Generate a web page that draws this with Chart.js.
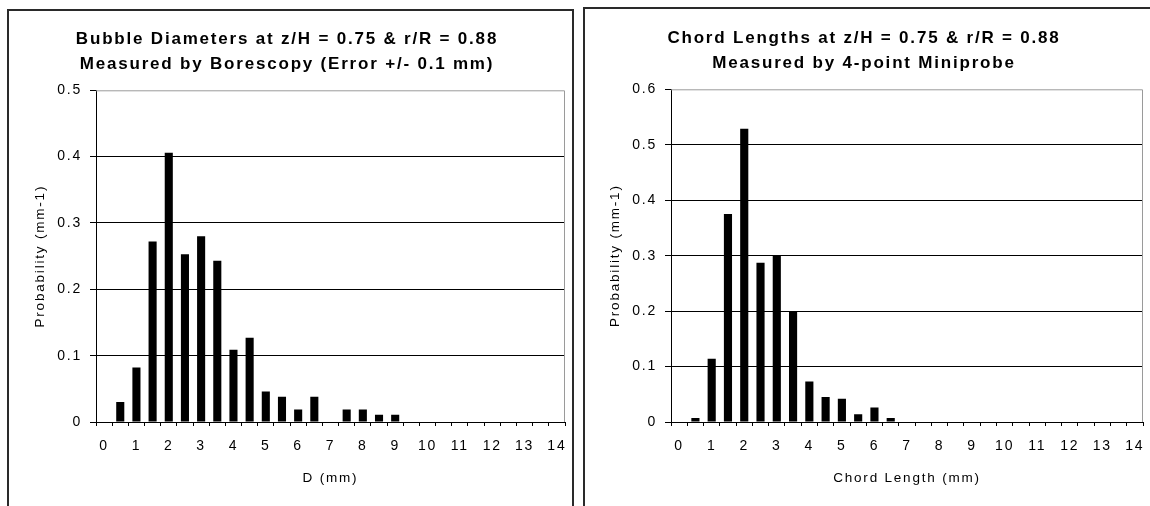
<!DOCTYPE html>
<html>
<head>
<meta charset="utf-8">
<script src="https://cdn.jsdelivr.net/npm/chart.js@4.4.1/dist/chart.umd.min.js"></script>
<style>
  html, body { margin: 0; padding: 0; background: #fff; overflow: hidden; }
  body { width: 1150px; height: 506px; position: relative; }
  .panel { position: absolute; box-sizing: border-box; border: 2px solid #2a2a2a; background: #fff; }
  #leftPanel { left: 7px; top: 9px; width: 567px; height: 520px; }
  #rightPanel { left: 583px; top: 7px; width: 569px; height: 520px; }
  canvas { display: block; }
</style>
</head>
<body>
<div class="panel" id="leftPanel"><canvas id="diamChart" width="563" height="497"></canvas></div>
<div class="panel" id="rightPanel"><canvas id="chordChart" width="565" height="497"></canvas></div>
<script>
// size classes (mm), shared by both histograms
const sizeBins = [0, 0.5, 1, 1.5, 2, 2.5, 3, 3.5, 4, 4.5, 5, 5.5, 6, 6.5, 7,
  7.5, 8, 8.5, 9, 9.5, 10, 10.5, 11, 11.5, 12, 12.5, 13, 13.5, 14];

// borescopy bubble diameters, probability (mm-1)
const diameterProb = [0, 0.030, 0.082, 0.272, 0.406, 0.253, 0.280, 0.243, 0.109, 0.127,
  0.046, 0.038, 0.019, 0.038, 0, 0.019, 0.019, 0.011, 0.011, 0,
  0, 0, 0, 0, 0, 0, 0, 0, 0];

// miniprobe chord lengths, probability (mm-1)
const chordProb = [0, 0.007, 0.114, 0.375, 0.529, 0.287, 0.301, 0.200, 0.073, 0.045,
  0.042, 0.014, 0.026, 0.007, 0, 0, 0, 0, 0, 0,
  0, 0, 0, 0, 0, 0, 0, 0, 0];

const diamTitle = ["Bubble Diameters at z/H = 0.75 & r/R = 0.88", "Measured by Borescopy (Error +/- 0.1 mm)"];
const chordTitle = ["Chord Lengths at z/H = 0.75 & r/R = 0.88", "Measured by 4-point Miniprobe"];

const FONT = "'Liberation Sans', Arial, sans-serif";

// excel-ish wide text + grey plot frame on top/right
const excelLook = {
  id: "excelLook",
  beforeDraw(chart) {
    chart.ctx.letterSpacing = "1.8px";
  },
  afterDraw(chart) {
    const { ctx, chartArea: a } = chart;
    ctx.save();
    ctx.strokeStyle = "#9a9a9a";
    ctx.lineWidth = 1;
    ctx.beginPath();
    ctx.moveTo(a.left, a.top + 0.5);
    ctx.lineTo(a.right - 0.5, a.top + 0.5);
    ctx.lineTo(a.right - 0.5, a.bottom);
    ctx.stroke();
    ctx.restore();
  }
};

function makeHist(id, values, yMax, title, xTitle, pad) {
  return new Chart(document.getElementById(id), {
    type: "bar",
    data: {
      labels: sizeBins,
      datasets: [{
        data: values,
        backgroundColor: "#000",
        borderWidth: 0,
        barPercentage: 0.5,
        categoryPercentage: 1
      }]
    },
    options: {
      responsive: false,
      animation: false,
      events: [],
      layout: { padding: { left: 0, right: 7, top: 0, bottom: 0 } },
      plugins: {
        legend: { display: false },
        tooltip: { enabled: false },
        title: {
          display: true,
          text: title,
          color: "#000",
          font: { family: FONT, size: 17, weight: "bold", lineHeight: 1.45 },
          padding: { top: pad.titleTop, bottom: pad.titleBottom }
        }
      },
      scales: {
        x: {
          grid: { display: true, drawOnChartArea: false, drawTicks: true, tickLength: 4, tickColor: "#000", offset: true },
          border: { color: "#000", width: 1 },
          ticks: {
            color: "#000",
            font: { family: FONT, size: 14 },
            padding: 12,
            maxRotation: 0,
            autoSkip: false,
            callback: (v, i) => Number.isInteger(sizeBins[i]) ? String(sizeBins[i]) : ""
          },
          title: { display: true, text: xTitle, color: "#000", font: { family: FONT, size: 13.5 }, padding: { bottom: pad.xTitle } },
          afterFit: s => {
            s.height = pad.xHeight;
            s.paddingLeft = 0;
            s.paddingRight = 0;
          }
        },
        y: {
          min: 0,
          max: yMax,
          grid: {
            color: c => c.tick.value >= yMax ? "rgba(0,0,0,0)" : "#000",
            tickColor: "#000",
            tickLength: 6,
            lineWidth: 1
          },
          border: { color: "#000", width: 1 },
          ticks: {
            stepSize: 0.1,
            color: "#000",
            font: { family: FONT, size: 14 },
            padding: 8,
            callback: v => v === 0 ? "0" : v.toFixed(1)
          },
          title: { display: true, text: "Probability (mm-1)", color: "#000", font: { family: FONT, size: 13.5 }, padding: { top: pad.yTitle } },
          afterFit: s => { s.width = pad.yWidth; }
        }
      }
    },
    plugins: [excelLook]
  });
}

makeHist("diamChart", diameterProb, 0.5, diamTitle, "D (mm)",
  { titleTop: 16, titleBottom: 14, xTitle: 22, xHeight: 86, yTitle: 23, yWidth: 87 });

makeHist("chordChart", chordProb, 0.6, chordTitle, "Chord Length (mm)",
  { titleTop: 17, titleBottom: 14, xTitle: 20, xHeight: 84, yTitle: 22, yWidth: 86 });
</script>
</body>
</html>
